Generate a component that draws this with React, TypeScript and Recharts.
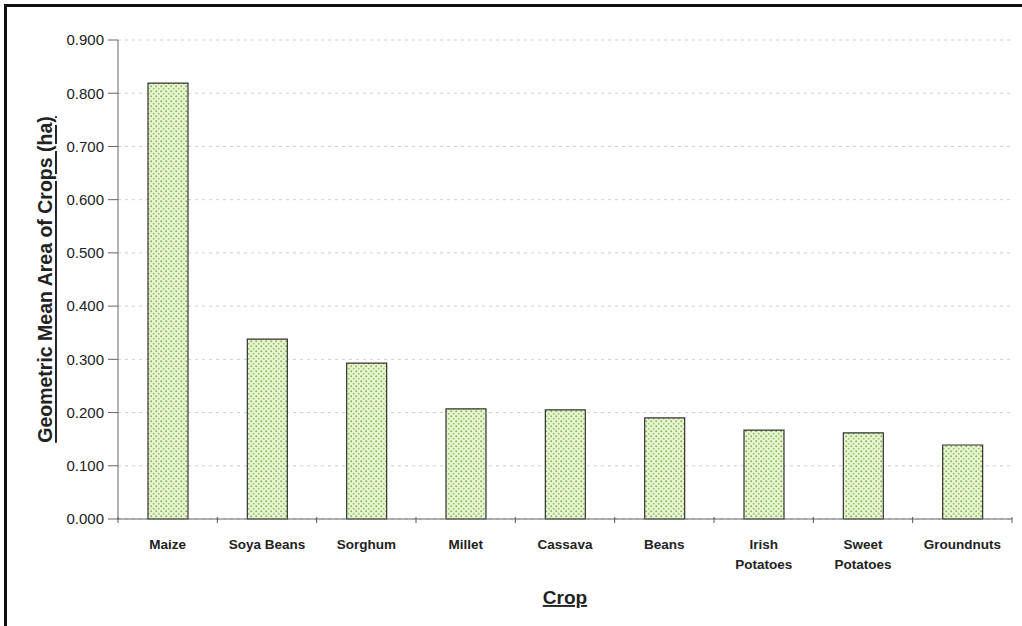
import React from "react";
import {
  BarChart,
  Bar,
  XAxis,
  YAxis,
  CartesianGrid,
} from "recharts";

const crops = [
  "Maize",
  "Soya Beans",
  "Sorghum",
  "Millet",
  "Cassava",
  "Beans",
  "Irish Potatoes",
  "Sweet Potatoes",
  "Groundnuts",
];
const meanArea = [0.819, 0.338, 0.293, 0.207, 0.205, 0.19, 0.167, 0.162, 0.139];
const yTicks = [0, 0.1, 0.2, 0.3, 0.4, 0.5, 0.6, 0.7, 0.8, 0.9];

const data = crops.map((name, i) => ({ name, value: meanArea[i] }));

const W = 1022;
const H = 626;
const LEFT = 118;
const RIGHT = 10;
const halfBand = (W - LEFT - RIGHT) / crops.length / 2;
const FONT = "'Liberation Sans', Arial, sans-serif";

// two-word names wrap onto two lines, except "Soya Beans"
const CropTick = (props: any) => {
  const { x, y, payload } = props;
  const words: string[] = payload.value.split(" ");
  const lines = payload.value === "Soya Beans" ? [payload.value] : words;
  return (
    <g>
      <line x1={x - halfBand} y1={y - 10} x2={x - halfBand} y2={y - 4} stroke="#555" />
      {payload.index === crops.length - 1 && (
        <line x1={x + halfBand} y1={y - 10} x2={x + halfBand} y2={y - 4} stroke="#555" />
      )}
      <text
        x={x}
        y={y}
        textAnchor="middle"
        fontFamily={FONT}
        fontWeight="bold"
        fontSize={13.5}
        fill="#222"
      >
        {lines.map((l, i) => (
          <tspan key={i} x={x} dy={i === 0 ? 22 : 20}>
            {l}
          </tspan>
        ))}
      </text>
    </g>
  );
};

const YTitle = (props: any) => {
  const vb = props.viewBox;
  const cx = 45;
  const cy = vb.y + vb.height / 2;
  return (
    <text
      x={cx}
      y={cy}
      transform={`rotate(-90 ${cx} ${cy})`}
      textAnchor="middle"
      dominantBaseline="central"
      fontFamily={FONT}
      fontWeight="bold"
      fontSize={19.5}
      textDecoration="underline"
      fill="#222"
    >
      Geometric Mean Area of Crops (ha)
    </text>
  );
};

export default function App() {
  return (
    <div style={{ position: "absolute", left: 0, top: 0, width: W, height: H, background: "#fff" }}>
      <div
        style={{
          position: "absolute",
          left: 4,
          top: 4,
          width: W,
          height: H,
          borderLeft: "3px solid #111",
          borderTop: "3px solid #111",
        }}
      />
      <div style={{ position: "absolute", left: 0, top: 0 }}>
        <BarChart
          width={W}
          height={H}
          data={data}
          margin={{ top: 40, right: RIGHT, left: LEFT - 60, bottom: 47 }}
          barSize={40}
        >
          <defs>
            <pattern id="dots" width="5" height="5" patternUnits="userSpaceOnUse">
              <rect width="5" height="5" fill="#eaf5d6" />
              <circle cx="1.2" cy="1.2" r="1" fill="#86b955" />
              <circle cx="3.7" cy="3.7" r="1" fill="#9bcb68" />
            </pattern>
          </defs>
          <CartesianGrid
            vertical={false}
            stroke="#cfcfcf"
            strokeDasharray="3 4"
            yAxisId="left"
          />
          <XAxis
            dataKey="name"
            xAxisId="bottom"
            interval={0}
            height={60}
            tickLine={false}
            axisLine={{ stroke: "#666" }}
            tick={<CropTick />}
            label={{
              value: "Crop",
              position: "insideBottom",
              offset: -25,
              fontFamily: FONT,
              fontWeight: "bold",
              fontSize: 19,
              fill: "#222",
              textDecoration: "underline",
            }}
          />
          <XAxis
            dataKey="name"
            xAxisId="top"
            orientation="top"
            height={0}
            tick={false}
            tickLine={false}
            axisLine={{ stroke: "#888" }}
          />
          <YAxis
            yAxisId="left"
            width={60}
            domain={[0, 0.9]}
            ticks={yTicks}
            interval={0}
            tickFormatter={(v: number) => v.toFixed(3)}
            tick={{ fontFamily: FONT, fontSize: 15, fill: "#222" }}
            tickLine={{ stroke: "#666" }}
            tickSize={10}
            tickMargin={4}
            axisLine={{ stroke: "#666" }}
            label={<YTitle />}
          />
          <YAxis
            yAxisId="right"
            orientation="right"
            width={0}
            domain={[0, 0.9]}
            tick={false}
            tickLine={false}
            axisLine={{ stroke: "#888" }}
          />
          <Bar
            dataKey="value"
            xAxisId="bottom"
            yAxisId="left"
            fill="url(#dots)"
            stroke="#333"
            strokeWidth={1.2}
            isAnimationActive={false}
          />
        </BarChart>
      </div>
    </div>
  );
}
